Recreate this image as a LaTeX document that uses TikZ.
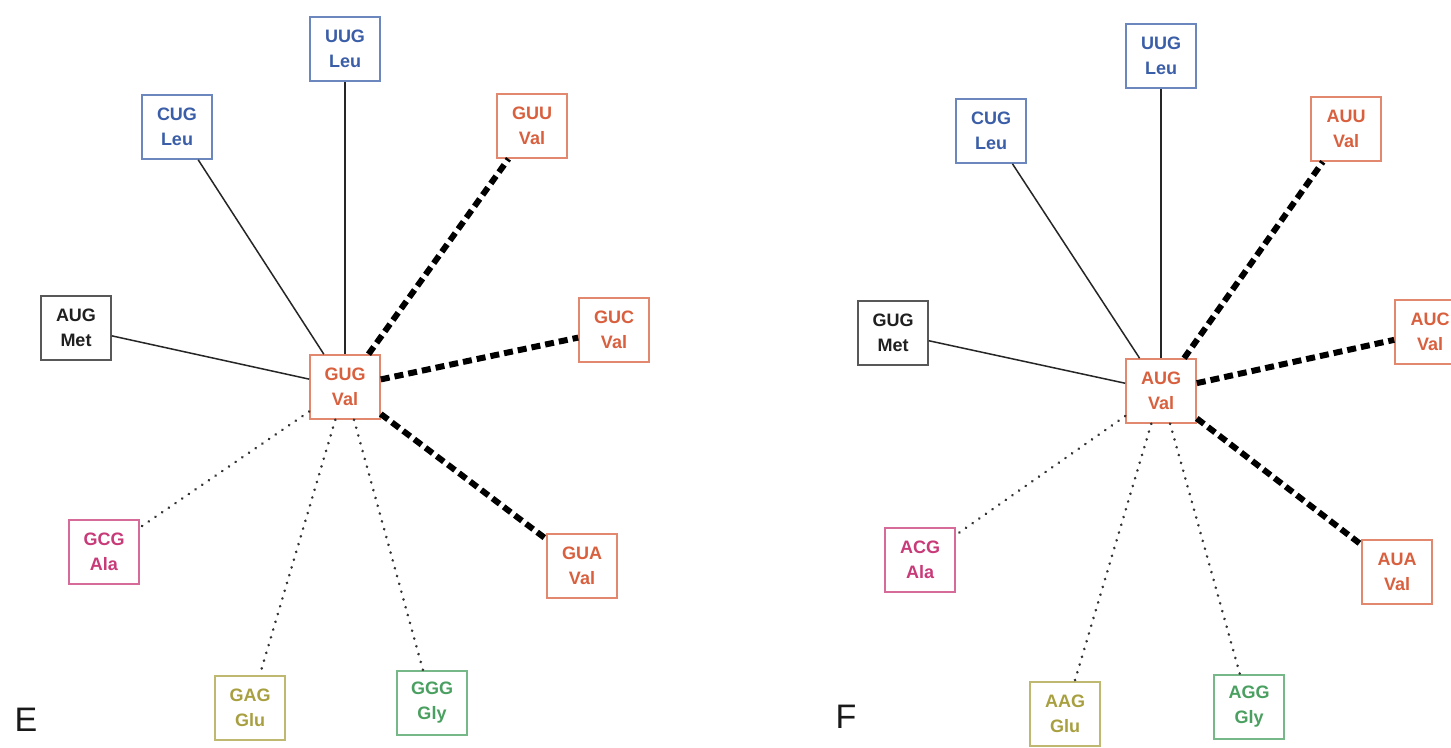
\documentclass[tikz,border=0pt]{standalone}
\usepackage{fontspec}
\setmainfont{Liberation Sans}
\definecolor{cblue}{HTML}{3B5EA8}
\definecolor{corange}{HTML}{D9603E}
\definecolor{cpink}{HTML}{C83A78}
\definecolor{colive}{HTML}{A8A040}
\definecolor{cgreen}{HTML}{4AA060}
\definecolor{cblack}{HTML}{202020}
\tikzset{
  codon/.style={draw=#1!75, text=#1, line width=1.6pt, minimum width=70pt, minimum height=64pt,
    align=center, inner sep=2pt, font=\fontsize{18}{25}\selectfont\bfseries},
  solidlink/.style={line width=1.5pt, draw=black!85},
  vallink/.style={line width=6pt, draw=black, dash pattern=on 9pt off 5pt},
  dotlink/.style={line width=2.8pt, draw=black!80, line cap=round, dash pattern=on 0.1pt off 8pt},
  panel/.style={font=\fontsize{34}{34}\selectfont, text=black!90}
}
\begin{document}
\begin{tikzpicture}[x=1pt,y=-1pt]
\clip (0,0) rectangle (1451,747);
\fill[white] (0,0) rectangle (1451,747);
% ---------- panel E ----------
\node[codon=corange] (c1) at (345,387) {GUG\\Val};
\node[codon=cblue] (uug1) at (345,49) {UUG\\Leu};
\node[codon=cblue] (cug1) at (177,127) {CUG\\Leu};
\node[codon=corange] (guu1) at (532,126) {GUU\\Val};
\node[codon=cblack] (aug1) at (76,328) {AUG\\Met};
\node[codon=corange] (guc1) at (614,330) {GUC\\Val};
\node[codon=cpink] (gcg1) at (104,552) {GCG\\Ala};
\node[codon=corange] (gua1) at (582,566) {GUA\\Val};
\node[codon=colive] (gag1) at (250,708) {GAG\\Glu};
\node[codon=cgreen] (ggg1) at (432,703) {GGG\\Gly};
\node[panel] (E) at (26,720) {E};
\draw[solidlink] (c1) -- (uug1);
\draw[solidlink] (c1) -- (cug1);
\draw[solidlink] (c1) -- (aug1);
\draw[vallink] (c1) -- (guu1);
\draw[vallink] (c1) -- (guc1);
\draw[vallink] (c1) -- (gua1);
\draw[dotlink] (c1) -- (gcg1);
\draw[dotlink] (c1) -- (gag1);
\draw[dotlink] (c1) -- (ggg1);
% ---------- panel F ----------
\node[codon=corange] (c2) at (1161,391) {AUG\\Val};
\node[codon=cblue] (uug2) at (1161,56) {UUG\\Leu};
\node[codon=cblue] (cug2) at (991,131) {CUG\\Leu};
\node[codon=corange] (auu2) at (1346,129) {AUU\\Val};
\node[codon=cblack] (gug2) at (893,333) {GUG\\Met};
\node[codon=corange] (auc2) at (1430,332) {AUC\\Val};
\node[codon=cpink] (acg2) at (920,560) {ACG\\Ala};
\node[codon=corange] (aua2) at (1397,572) {AUA\\Val};
\node[codon=colive] (aag2) at (1065,714) {AAG\\Glu};
\node[codon=cgreen] (agg2) at (1249,707) {AGG\\Gly};
\node[panel] (F) at (846,717) {F};
\draw[solidlink] (c2) -- (uug2);
\draw[solidlink] (c2) -- (cug2);
\draw[solidlink] (c2) -- (gug2);
\draw[vallink] (c2) -- (auu2);
\draw[vallink] (c2) -- (auc2);
\draw[vallink] (c2) -- (aua2);
\draw[dotlink] (c2) -- (acg2);
\draw[dotlink] (c2) -- (aag2);
\draw[dotlink] (c2) -- (agg2);
\end{tikzpicture}
\end{document}
